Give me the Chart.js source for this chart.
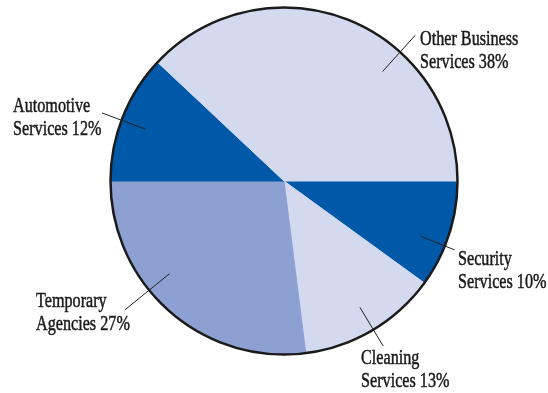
<!DOCTYPE html>
<html>
<head>
<meta charset="utf-8">
<script src="https://cdn.jsdelivr.net/npm/chart.js@4.4.0/dist/chart.umd.min.js"></script>
<style>
  html, body { margin: 0; padding: 0; background: #fff; }
  #wrap { width: 548px; height: 393px; }
</style>
</head>
<body>
<div id="wrap"><canvas id="PieChart"></canvas></div>
<script>
// Slices, clockwise from 3 o'clock
const categories = ['Security Services', 'Cleaning Services', 'Temporary Agencies', 'Automotive Services', 'Other Business Services'];
const shares = [10, 13, 27, 12, 38];
const sliceColors = ['#0058A9', '#D3D9EE', '#8DA0D2', '#0058A9', '#D3D9EE'];

// label layout: leader angle (deg), outer end (fraction of radius), text left x, first baseline
const leaders = [[22, 1.06], [59, 1.11], [141, 1.18], [200.5, 1.12], [-48, 1.13]];
const labelSpots = [[458, 265], [361, 364], [36, 307], [13, 112], [420, 45]];

// outline + leader lines + labels
const labelPlugin = {
  id: 'labels',
  afterDraw(chart) {
    const ctx = chart.ctx;
    const arc = chart.getDatasetMeta(0).data[0];
    const cx = arc.x, cy = arc.y, r = arc.outerRadius;

    ctx.save();
    ctx.beginPath();
    ctx.arc(cx, cy, r, 0, Math.PI * 2);
    ctx.lineWidth = 2.5;
    ctx.strokeStyle = '#1b1b1b';
    ctx.stroke();

    ctx.lineWidth = 1;
    ctx.strokeStyle = '#222';
    leaders.forEach(([deg, out]) => {
      const a = deg * Math.PI / 180;
      ctx.beginPath();
      ctx.moveTo(cx + Math.cos(a) * r * 0.85, cy + Math.sin(a) * r * 0.85);
      ctx.lineTo(cx + Math.cos(a) * r * out, cy + Math.sin(a) * r * out);
      ctx.stroke();
    });

    ctx.fillStyle = '#1a1a1a';
    ctx.strokeStyle = '#1a1a1a';
    ctx.lineWidth = 0.5;
    ctx.font = '21px "Liberation Serif", serif';
    ctx.textBaseline = 'alphabetic';
    ctx.textAlign = 'left';
    const squeeze = 0.77;
    categories.forEach((name, i) => {
      const cut = name.lastIndexOf(' ');
      const lines = [name.slice(0, cut), name.slice(cut + 1) + ' ' + shares[i] + '%'];
      const [x, y] = labelSpots[i];
      lines.forEach((t, j) => {
        ctx.save();
        ctx.translate(x, y + j * 23);
        ctx.scale(squeeze, 1);
        ctx.fillText(t, 0, 0);
        ctx.strokeText(t, 0, 0);
        ctx.restore();
      });
    });
    ctx.restore();
  }
};

new Chart(document.getElementById('PieChart'), {
  type: 'pie',
  data: {
    labels: categories,
    datasets: [{
      data: shares,
      backgroundColor: sliceColors,
      borderColor: sliceColors,
      borderWidth: 1
    }]
  },
  options: {
    responsive: true,
    maintainAspectRatio: false,
    animation: false,
    rotation: 90,
    layout: { padding: { left: 110, right: 90, top: 7, bottom: 38 } },
    plugins: {
      legend: { display: false },
      tooltip: { enabled: false }
    }
  },
  plugins: [labelPlugin]
});
</script>
</body>
</html>
